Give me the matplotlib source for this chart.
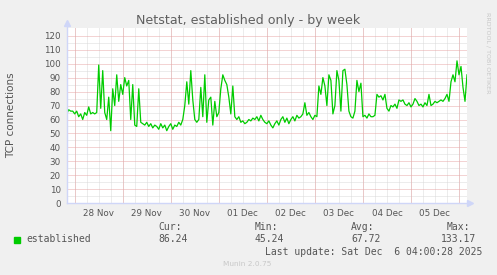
import numpy as np
import pandas as pd
import matplotlib
matplotlib.use("Agg")
import matplotlib.pyplot as plt
import matplotlib.dates as mdates

# --- data: hourly samples of established TCP connections ---
start_time = "2025-11-27 20:00"
end_time = "2025-12-06 04:00"
established = [
    64, 67, 66, 66, 64, 66, 62, 64, 60, 65,
    63, 69, 64, 65, 64, 65, 99, 68, 95, 65,
    60, 76, 52, 82, 70, 92, 73, 85, 78, 90,
    84, 88, 60, 85, 56, 55, 82, 58, 57, 56,
    58, 55, 57, 54, 56, 55, 53, 57, 54, 56,
    52, 55, 57, 53, 56, 55, 58, 56, 60, 70,
    87, 71, 95, 74, 60, 58, 60, 83, 62, 92,
    58, 74, 76, 56, 73, 62, 65, 82, 92, 88,
    85, 76, 64, 84, 62, 60, 62, 58, 59, 57,
    58, 60, 59, 61, 60, 62, 59, 63, 60, 58,
    57, 59, 56, 54, 57, 59, 56, 60, 62, 58,
    61, 57, 60, 62, 59, 63, 61, 62, 64, 72,
    63, 65, 62, 60, 63, 62, 84, 78, 90, 84,
    70, 92, 88, 64, 70, 95, 88, 66, 95, 96,
    85, 66, 62, 61, 66, 88, 80, 86, 62, 63,
    61, 64, 62, 62, 63, 78, 76, 77, 74, 78,
    68, 66, 70, 69, 71, 68, 74, 73, 74, 71,
    70, 72, 69, 71, 75, 73, 70, 71, 69, 72,
    70, 78, 70, 71, 73, 72, 73, 74, 73, 75,
    78, 73, 87, 92, 87, 102, 92, 98, 83, 73,
    92,
]
y_ticks = list(range(0, 121, 10))
stat_names = ["Cur:", "Min:", "Avg:", "Max:"]
stat_values = ["86.24", "45.24", "67.72", "133.17"]
series_label = "established"
last_update = "Last update: Sat Dec  6 04:00:28 2025"

# --- colours (munin / rrdtool look) ---
BACK = "#F0F0F0"
FONT = "#555555"
AXIS = "#CFD6F8"
LINE = "#00CC00"
MGRID = "#E8A8A8"
GRID = "#DADADA"

W, H = 497, 275
fig = plt.figure(figsize=(W / 100, H / 100), dpi=100, facecolor=BACK)


def fx(x):
    return x / W


def fy(y):
    return 1 - y / H


ax = fig.add_axes([fx(66.7), fy(203.3), fx(467 - 66.7), 175 / H])
ax.set_facecolor("white")

times = pd.date_range(start_time, periods=len(established), freq="h")
t0, t1 = pd.Timestamp(start_time), pd.Timestamp(end_time)
ax.set_xlim(t0, t1)
ax.set_ylim(0, 125.3)

# grid: grey every 6 h / every 5, red at midnight / every 10
dots = (0, (1, 1))
for t in pd.date_range(t0.ceil("6h"), t1, freq="6h"):
    ax.axvline(t, color=GRID, lw=0.72, ls=dots, zorder=1)
for t in pd.date_range(t0.ceil("D"), t1, freq="D"):
    ax.axvline(t, color=MGRID, lw=0.72, ls=dots, zorder=2)
for v in np.arange(5, 125, 10):
    ax.axhline(v, color=GRID, lw=0.72, ls=dots, zorder=1)
for v in y_ticks[1:]:
    ax.axhline(v, color=MGRID, lw=0.72, ls=dots, zorder=2)

ax.plot(times, established, color=LINE, lw=0.9, zorder=5)

# ticks
ax.set_yticks(y_ticks)
ax.xaxis.set_major_locator(mdates.HourLocator(byhour=12))
ax.xaxis.set_major_formatter(mdates.DateFormatter("%d %b"))
ax.tick_params(axis="both", length=0, labelsize=6.3, colors=FONT)
ax.tick_params(axis="x", pad=3.8)
ax.tick_params(axis="y", pad=4.2)
for s in ax.spines.values():
    s.set_visible(False)

# axes with arrows
ax.plot([0, 1.008], [0, 0], transform=ax.transAxes, color=AXIS, lw=1.0,
        clip_on=False, zorder=6)
ax.plot([0, 0], [0, 1.03], transform=ax.transAxes, color=AXIS, lw=1.0,
        clip_on=False, zorder=6)
ax.plot([1.008], [0], transform=ax.transAxes, marker=">", ms=4, color=AXIS,
        clip_on=False, zorder=6)
ax.plot([0], [1.03], transform=ax.transAxes, marker="^", ms=4, color=AXIS,
        clip_on=False, zorder=6)

# texts
fig.text(fx(248.5), fy(24), "Netstat, established only - by week",
         ha="center", va="baseline", fontsize=9.1, color="#606060")
fig.text(fx(11), fy(115), "TCP connections", rotation=90,
         ha="center", va="center", fontsize=7.5, color=FONT)
fig.text(fx(487.5), fy(53), "RRDTOOL / TOBI OETIKER", rotation=270,
         ha="center", va="center", fontsize=4.6, color="#C8C8C8")

mono = "DejaVu Sans Mono"
col_x = [158.3, 254.7, 351, 441]
head_x = [158.3, 254.7, 351, 446.7]
for name, hx in zip(stat_names, head_x):
    fig.text(fx(hx), fy(230.5), name, ha="left", va="baseline",
             family=mono, fontsize=7, color=FONT)
for val, vx in zip(stat_values, col_x):
    fig.text(fx(vx), fy(242.5), val, ha="left", va="baseline",
             family=mono, fontsize=7, color=FONT)
fig.patches.append(plt.Rectangle((fx(14), fy(242.5)), fx(6), 6 / H,
                                 transform=fig.transFigure, color=LINE))
fig.text(fx(26), fy(242.5), series_label, ha="left", va="baseline",
         family=mono, fontsize=7, color=FONT)
fig.text(fx(482.7), fy(254.8), last_update, ha="right", va="baseline",
         family=mono, fontsize=7, color=FONT)
fig.text(fx(247.5), fy(266.5), "Munin 2.0.75", ha="center", va="baseline",
         fontsize=5.3, color="#C8C8C8")

fig.savefig("out.png", dpi=100, facecolor=BACK)
